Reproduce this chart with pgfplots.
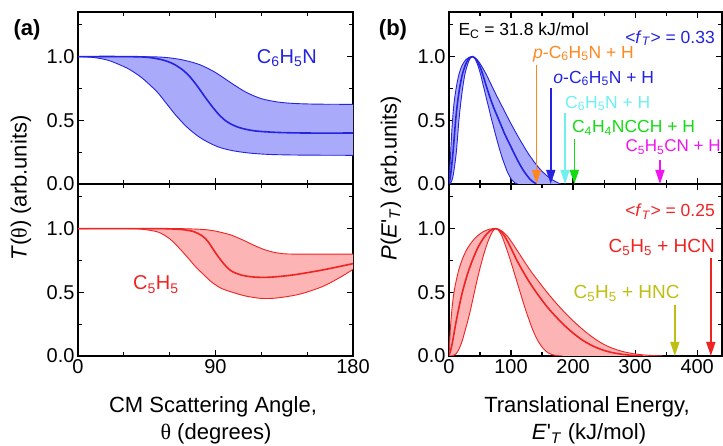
\documentclass[border=0pt]{standalone}
\usepackage{fontspec}
\setmainfont{Liberation Sans}
\newfontfamily\grk{Liberation Serif}
\usepackage{pgfplots}
\pgfplotsset{compat=1.18}
\usepgfplotslibrary{fillbetween}
\usetikzlibrary{arrows.meta}

\definecolor{bline}{RGB}{35,35,225}
\definecolor{bfill}{RGB}{170,170,250}
\definecolor{rline}{RGB}{240,35,35}
\definecolor{rfill}{RGB}{252,180,180}
\definecolor{aorange}{RGB}{255,135,30}
\definecolor{acyan}{RGB}{110,240,240}
\definecolor{agreen}{RGB}{20,220,20}
\definecolor{amag}{RGB}{240,20,240}
\definecolor{aolive}{RGB}{190,190,20}

\pgfplotsset{
  panel/.style={
    scale only axis, height=172pt,
    ymin=0, ymax=1.35,
    ytick={0,0.5,1}, yticklabels={0.0,0.5,1.0},
    minor ytick={0.25,0.75,1.25},
    tick align=inside,
    major tick length=6pt, minor tick length=4pt,
    every tick/.style={black, line width=1.2pt},
    axis line style={line width=1.3pt},
    tick label style={font=\fontsize{20}{24}\selectfont},
    /pgf/number format/assume math mode=true,
    set layers,
  },
  leftp/.style={panel, width=275pt, xmin=0, xmax=180,
    xtick={0,90,180}, minor xtick={30,60,120,150}},
  rightp/.style={panel, width=273pt, xmin=0, xmax=440,
    xtick={0,100,200,300,400}, minor xtick={50,150,250,350}},
  cthin/.style={line width=0.9pt, smooth},
  cthick/.style={line width=1.6pt, smooth},
}
\newcommand{\arr}{-{Triangle[width=9pt,length=14pt]}}
\newcommand{\Ep}{\textit{E}\textquotesingle\textsubscript{\textit{T}}}

\begin{document}
\begin{tikzpicture}

% (a) top: C6H5N
\begin{axis}[leftp, at={(78pt,262pt)}, anchor=south west, xticklabels={}]
\addplot[cthin, bline, name path=up] coordinates {(0,1)(30,1)(50,0.998)(60,0.99)(70,0.97)(80,0.935)(90,0.875)(100,0.795)(110,0.72)(120,0.67)(130,0.645)(140,0.633)(155,0.627)(180,0.625)};
\addplot[cthin, bline, name path=lo] coordinates {(0,1)(10,0.993)(20,0.97)(32,0.91)(40,0.85)(45,0.80)(52,0.72)(58,0.63)(64,0.54)(71,0.45)(78,0.38)(84,0.335)(92,0.29)(101,0.262)(112,0.243)(125,0.232)(145,0.227)(180,0.225)};
\addplot[bfill] fill between[of=up and lo];
\addplot[cthick, bline] coordinates {(0,1)(30,1)(45,0.995)(55,0.975)(62,0.945)(68,0.9)(73,0.845)(78,0.77)(83,0.685)(88,0.605)(93,0.535)(98,0.485)(105,0.445)(115,0.418)(130,0.405)(150,0.40)(180,0.40)};
\node[anchor=base west, inner sep=0pt, text=bline, font=\fontsize{20}{24}\selectfont] at (axis cs:117,0.947) {C\textsubscript{6}H\textsubscript{5}N};
\end{axis}

% (a) bottom: C5H5
\begin{axis}[leftp, at={(78pt,90pt)}, anchor=south west]
\addplot[cthin, rline, name path=up] coordinates {(0,1)(60,1)(75,0.997)(85,0.99)(92,0.975)(100,0.95)(108,0.91)(115,0.87)(122,0.835)(130,0.81)(140,0.80)(180,0.80)};
\addplot[cthin, rline, name path=lo] coordinates {(0,1)(35,1)(45,0.99)(53,0.97)(60,0.92)(66,0.85)(72,0.77)(77,0.70)(83,0.63)(88,0.575)(94,0.53)(101,0.50)(110,0.47)(120,0.452)(130,0.455)(145,0.485)(160,0.545)(172,0.62)(180,0.68)};
\addplot[rfill] fill between[of=up and lo];
\addplot[cthick, rline] coordinates {(0,1)(50,1)(62,0.997)(70,0.99)(76,0.975)(81,0.945)(85,0.9)(90,0.81)(95,0.73)(100,0.67)(107,0.635)(115,0.62)(125,0.618)(140,0.635)(160,0.675)(180,0.725)};
\node[anchor=base west, inner sep=0pt, text=rline, font=\fontsize{20}{24}\selectfont] at (axis cs:36,0.518) {C\textsubscript{5}H\textsubscript{5}};
\end{axis}

% (b) top
\begin{axis}[rightp, at={(449pt,262pt)}, anchor=south west, xticklabels={}]
\addplot[cthin, bline, name path=w] coordinates {(0,0)(1.3,0.12)(2.7,0.25)(4,0.37)(5.4,0.48)(8,0.63)(11.8,0.76)(16,0.86)(21,0.93)(27,0.975)(32,0.993)(38,1.0)(45,0.978)(52,0.93)(60,0.86)(68,0.78)(77,0.69)(87,0.595)(97,0.5)(107,0.41)(117,0.325)(127,0.245)(137,0.175)(147,0.115)(157,0.068)(166,0.035)(174,0.013)(180,0)};
\addplot[cthin, bline, name path=n] coordinates {(0,0)(3,0.01)(6,0.05)(9,0.14)(11.8,0.25)(14,0.38)(16,0.5)(19,0.64)(22.5,0.77)(26,0.87)(30,0.94)(34,0.985)(38,1.0)(42.3,0.98)(46.6,0.93)(50.9,0.86)(55.1,0.775)(59.4,0.69)(63.7,0.605)(68,0.52)(72.2,0.44)(76.5,0.36)(80.8,0.285)(85.1,0.215)(89.4,0.155)(93.6,0.1)(97.9,0.058)(102.2,0.027)(106.4,0.008)(110.7,0)};
\addplot[bfill] fill between[of=w and n];
\addplot[cthick, bline] coordinates {(0,0)(2,0.05)(4,0.13)(6.5,0.25)(8.5,0.37)(10.7,0.5)(13.5,0.63)(17,0.75)(21,0.85)(26,0.93)(31,0.978)(38,1.0)(44,0.975)(50,0.92)(55,0.85)(60,0.77)(66,0.68)(72,0.6)(78,0.53)(84,0.46)(90,0.39)(96,0.33)(102,0.27)(108,0.21)(114,0.155)(120,0.105)(126,0.065)(131,0.035)(136,0.015)(141,0)};
\addplot[aorange, line width=1.5pt, \arr] coordinates {(141,0.934)(141,0)};
\addplot[bline, line width=1.5pt, \arr] coordinates {(164,0.75)(164,0)};
\addplot[acyan, line width=1.5pt, \arr] coordinates {(187,0.56)(187,0)};
\addplot[agreen, line width=1.5pt, \arr] coordinates {(202,0.35)(202,0)};
\addplot[amag, line width=1.5pt, \arr] coordinates {(340,0.19)(340,0)};
\begin{scope}[every node/.style={anchor=base west, font=\fontsize{17.5}{21}\selectfont, inner sep=0pt}]
\node at (axis cs:15,1.164) {E\textsubscript{C} = 31.8 kJ/mol};
\node[text=bline, anchor=base east] at (axis cs:428.7,1.104) {<\textit{f}\textsubscript{\textit{T}}> = 0.33};
\node[text=aorange] at (axis cs:135.4,0.987) {\textit{p}-C\textsubscript{6}H\textsubscript{5}N + H};
\node[text=bline] at (axis cs:168,0.79) {\textit{o}-C\textsubscript{6}H\textsubscript{5}N + H};
\node[text=acyan] at (axis cs:187,0.594) {C\textsubscript{6}H\textsubscript{5}N + H};
\node[text=agreen] at (axis cs:198,0.403) {C\textsubscript{4}H\textsubscript{4}NCCH + H};
\node[text=amag, anchor=base east, font=\fontsize{17}{20}\selectfont] at (axis cs:438,0.254) {C\textsubscript{5}H\textsubscript{5}CN + H};
\end{scope}
\end{axis}

% (b) bottom
\begin{axis}[rightp, at={(449pt,90pt)}, anchor=south west]
\addplot[cthin, rline, name path=w] coordinates {(0,0)(1,0.1)(2.7,0.25)(5,0.38)(8,0.5)(12,0.6)(16,0.68)(21.5,0.76)(28,0.83)(36,0.89)(45,0.94)(55,0.975)(65,0.995)(75,1.0)(85,0.982)(95,0.935)(105,0.865)(115,0.79)(125,0.715)(135,0.645)(146,0.575)(158,0.5)(170,0.43)(182,0.365)(195,0.3)(207,0.245)(220,0.19)(235,0.135)(250,0.09)(265,0.058)(280,0.035)(300,0.016)(320,0.006)(344,0)};
\addplot[cthin, rline, name path=n] coordinates {(0,0)(6,0.002)(10,0.012)(14,0.035)(18,0.075)(22,0.13)(26,0.2)(30,0.27)(35,0.37)(40,0.48)(45,0.59)(50,0.69)(55,0.78)(60,0.86)(65,0.925)(70,0.975)(75,1.0)(80,0.985)(85,0.945)(90,0.88)(95,0.81)(100,0.735)(105,0.655)(110,0.575)(115,0.495)(120,0.415)(125,0.34)(130,0.27)(135,0.205)(140,0.15)(145,0.105)(150,0.07)(155,0.043)(160,0.024)(166,0.011)(174,0.003)(183,0)};
\addplot[rfill] fill between[of=w and n];
\addplot[cthick, rline] coordinates {(0,0)(3,0.05)(6,0.12)(10.7,0.25)(16,0.38)(21.5,0.5)(29,0.63)(37.6,0.75)(47,0.855)(57,0.935)(66,0.982)(75,1.0)(82,0.985)(89,0.945)(96,0.885)(103,0.815)(110,0.745)(118,0.675)(127,0.6)(137,0.525)(148,0.45)(160,0.375)(172,0.31)(185,0.245)(200,0.18)(215,0.125)(230,0.083)(245,0.052)(260,0.03)(278,0.014)(295,0.005)(312,0)};
\addplot[rline, line width=1.5pt, \arr] coordinates {(422,0.77)(422,0)};
\addplot[aolive, line width=1.5pt, \arr] coordinates {(364,0.40)(364,0)};
\node[anchor=base east, inner sep=0pt, text=rline, font=\fontsize{17.5}{21}\selectfont] at (axis cs:428.7,1.093) {<\textit{f}\textsubscript{\textit{T}}> = 0.25};
\node[anchor=base east, inner sep=0pt, text=rline, font=\fontsize{19}{23}\selectfont] at (axis cs:428.7,0.81) {C\textsubscript{5}H\textsubscript{5} + HCN};
\node[anchor=base west, inner sep=0pt, text=aolive, font=\fontsize{19}{23}\selectfont] at (axis cs:200.5,0.453) {C\textsubscript{5}H\textsubscript{5} + HNC};
\end{axis}

% labels
\begin{scope}[every node/.style={font=\fontsize{22}{26}\selectfont, inner sep=0pt}]
\node[rotate=90] at (21pt,258pt) {\textit{T}({\grk θ}) (arb.units)};
\node[rotate=90] at (391pt,268pt) {\textit{P}(\Ep) (arb.units)};
\node[anchor=base] at (213pt,33pt) {CM Scattering Angle,};
\node[anchor=base] at (216pt,6pt) {{\grk θ} (degrees)};
\node[anchor=base] at (587pt,33pt) {Translational Energy,};
\node[anchor=base] at (589pt,6pt) {\Ep{} (kJ/mol)};
\node[font=\fontsize{22}{26}\selectfont\bfseries] at (27pt,416pt) {(a)};
\node[font=\fontsize{22}{26}\selectfont\bfseries] at (393pt,416pt) {(b)};
\end{scope}

\pgfresetboundingbox
\path[use as bounding box] (0,0) rectangle (723pt,446pt);
\end{tikzpicture}
\end{document}
